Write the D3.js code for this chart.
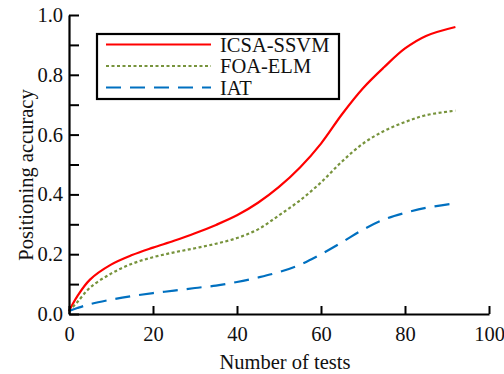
<!DOCTYPE html>
<html>
<head>
<script src="https://d3js.org/d3.v7.min.js"></script>
</head>
<body style="margin:0">
<svg id="chart" width="504" height="374"></svg>
<script>
// values
var tests = [0, 2, 5, 10, 15, 20, 25, 30, 35, 40, 45, 50, 55, 60, 65, 70, 75, 80, 85, 92];
var icsaSsvm = [0.01, 0.06, 0.115, 0.165, 0.197, 0.222, 0.245, 0.27, 0.298, 0.33, 0.372, 0.425, 0.49, 0.57, 0.668, 0.755, 0.825, 0.888, 0.93, 0.96];
var foaElm = [0.01, 0.04, 0.088, 0.135, 0.168, 0.19, 0.206, 0.22, 0.235, 0.254, 0.283, 0.33, 0.38, 0.44, 0.51, 0.57, 0.612, 0.642, 0.665, 0.68];
var iat = [0.01, 0.02, 0.033, 0.048, 0.06, 0.07, 0.078, 0.087, 0.095, 0.107, 0.122, 0.14, 0.165, 0.2, 0.24, 0.282, 0.316, 0.338, 0.355, 0.37];
var xTicks = [0, 20, 40, 60, 80, 100];
var yTicks = [0, 0.2, 0.4, 0.6, 0.8, 1.0];
var yMinor = [0.1, 0.3, 0.5, 0.7, 0.9];

var series = [
    {"label": "ICSA-SSVM", "values": icsaSsvm, "color": "#ff0000", "dash": null},
    {"label": "FOA-ELM", "values": foaElm, "color": "#77933c", "dash": "3,2.5"},
    {"label": "IAT", "values": iat, "color": "#0070c0", "dash": "15,9"}
];

var svg = d3.select("#chart");
var x = d3.scaleLinear().domain([0, 100]).range([69, 489]);
var y = d3.scaleLinear().domain([0, 1]).range([314, 15]);

function serif(sel){
    sel.style("font-family", "'Liberation Serif'").style("font-size", "20.5px").attr("fill", "#111");
}

// lines
var line = d3.line()
    .x(function(d){ return x(d[0]); })
    .y(function(d){ return y(d[1]); })
    .curve(d3.curveCatmullRom.alpha(0.5));

series.forEach(function(s){
    svg.append("path")
        .datum(tests.map(function(t, i){ return [t, s.values[i]]; }))
        .attr("d", line)
        .attr("fill", "none")
        .attr("stroke", s.color)
        .attr("stroke-width", 2.2)
        .attr("stroke-dasharray", s.dash);
});

// x axis, ticks pointing inward
var xAxis = svg.append("g")
    .attr("transform", "translate(0," + y(0) + ")")
    .call(d3.axisBottom(x).tickValues(xTicks).tickSizeInner(-8).tickSizeOuter(0).tickPadding(12));
xAxis.attr("font-family", null).attr("font-size", null);
xAxis.select(".domain").attr("stroke-width", 2.2);
xAxis.selectAll(".tick line").attr("stroke-width", 2);
xAxis.selectAll("text").call(serif);

// y axis with minor ticks
var yAxis = svg.append("g")
    .attr("transform", "translate(" + x(0) + ",0)")
    .call(d3.axisLeft(y).tickValues(yTicks).tickFormat(d3.format(".1f")).tickSizeInner(-10).tickSizeOuter(0).tickPadding(6));
yAxis.attr("font-family", null).attr("font-size", null);
yAxis.select(".domain").attr("stroke-width", 2.2);
yAxis.selectAll(".tick line").attr("stroke-width", 2);
yAxis.selectAll("text").call(serif);

svg.append("g")
    .attr("transform", "translate(" + x(0) + ",0)")
    .call(d3.axisLeft(y).tickValues(yMinor).tickFormat("").tickSizeInner(-10).tickSizeOuter(0))
    .call(function(g){ g.select(".domain").remove(); })
    .selectAll(".tick line").attr("stroke-width", 2);

// axis titles
svg.append("text")
    .attr("x", 285)
    .attr("y", 369)
    .attr("text-anchor", "middle")
    .call(serif)
    .text("Number of tests");

svg.append("text")
    .attr("transform", "translate(33,175) rotate(-90)")
    .attr("text-anchor", "middle")
    .call(serif)
    .text("Positioning accuracy");

// legend
var legend = svg.append("g");
legend.append("rect")
    .attr("x", 97)
    .attr("y", 34)
    .attr("width", 242)
    .attr("height", 65)
    .attr("fill", "#fff")
    .attr("stroke", "#000")
    .attr("stroke-width", 2.2);

series.forEach(function(s, i){
    var ly = 44.5 + i * 21.5;
    legend.append("line")
        .attr("x1", 106)
        .attr("x2", 211)
        .attr("y1", ly)
        .attr("y2", ly)
        .attr("stroke", s.color)
        .attr("stroke-width", 2.2)
        .attr("stroke-dasharray", s.dash);
    legend.append("text")
        .attr("x", 220)
        .attr("y", ly + 7)
        .call(serif)
        .text(s.label);
});
</script>
</body>
</html>
